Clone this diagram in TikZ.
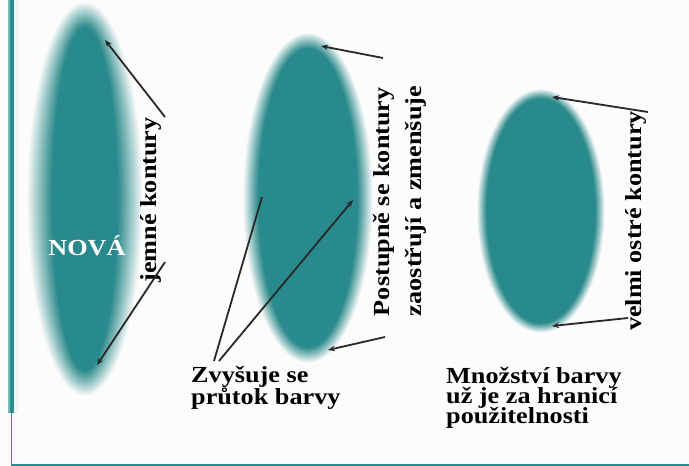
\documentclass[tikz,border=0pt]{standalone}
\usepackage{fontspec}
\usetikzlibrary{arrows.meta}
\newfontfamily\lab[FakeStretch=1.14]{Liberation Serif}
\AtBeginDocument{\global\lineskiplimit=-30pt}
\definecolor{tealc}{RGB}{40,138,140}
\definecolor{frame}{RGB}{42,140,142}
\definecolor{framelt}{RGB}{120,185,185}
\definecolor{arr}{RGB}{40,40,40}
\definecolor{bg}{RGB}{252,252,252}
\newcommand\tealblob[5]{%
  \foreach \k in {1,...,30}{%
    \pgfmathsetmacro\bo{1/(31-\k)}%
    \pgfmathsetmacro\dd{#5*(1-(\k-0.5)/15)}%
    \fill[tealc, fill opacity=\bo] (#1,#2) ellipse [x radius=#3+\dd, y radius=#4+\dd];
  }}
\tikzset{
  lbl/.style={font=\lab\bfseries\fontsize{23}{22}\selectfont, text=black, inner sep=0pt},
  pointer/.style={draw=arr, line width=1.8pt, -{Stealth[length=7pt,width=5.5pt]}},
  plainline/.style={draw=arr, line width=1.8pt},
}
\begin{document}
\begin{tikzpicture}[x=1pt,y=-1pt]
\useasboundingbox (0,0) rectangle (689,466);
\fill[bg] (0,0) rectangle (689,466);
% frame
\fill[framelt] (8,0) rectangle (10,413);
\fill[frame] (10,0) rectangle (14,413);
\fill[frame!8] (14,0) rectangle (18,413);
\draw[frame, line width=1.3pt] (11.5,413) -- (11.5,465) -- (689,465);
% blobs
\tealblob{85}{199}{45}{184}{13}
\tealblob{308}{198}{57}{157}{8}
\tealblob{541}{211}{59}{117}{5}
% labels
\node[lbl, text=white] (nova) at (87,246) {NOVÁ};
\node[lbl, rotate=90] (jemne) at (151,200) {jemné kontury};
\node[lbl, rotate=90, align=left, font=\lab\bfseries\fontsize{23}{32}\selectfont] (post) at (400,201) {Postupně se kontury\\zaostřují a zmenšuje};
\node[lbl, rotate=90] (velmi) at (636,221) {velmi ostré kontury};
\node[lbl, align=left, anchor=base west] (zvy) at (191,404) {Zvyšuje se\\průtok barvy};
\node[lbl, align=left, anchor=base west, font=\lab\bfseries\fontsize{23}{20}\selectfont] (mno) at (446,423) {Množství barvy\\už je za hranicí\\použitelnosti};
% coordinates
\coordinate (j1) at (165,117); \coordinate (jt1) at (105,40);
\coordinate (j2) at (165,262); \coordinate (jt2) at (97,365);
\coordinate (p1) at (383,58);  \coordinate (pt1) at (321,46);
\coordinate (p2) at (385,337); \coordinate (pt2) at (328,350);
\coordinate (z1) at (214,361); \coordinate (zt1) at (262,197);
\coordinate (z2) at (219,361); \coordinate (zt2) at (353,200);
\coordinate (v1) at (648,112); \coordinate (vt1) at (552,97);
\coordinate (v2) at (628,318); \coordinate (vt2) at (552,326);
% arrows
\draw[pointer] (j1) -- (jt1);
\draw[pointer] (j2) -- (jt2);
\draw[pointer] (p1) -- (pt1);
\draw[pointer] (p2) -- (pt2);
\draw[plainline] (z1) -- (zt1);
\draw[pointer] (z2) -- (zt2);
\draw[pointer] (v1) -- (vt1);
\draw[pointer] (v2) -- (vt2);
\end{tikzpicture}
\end{document}
